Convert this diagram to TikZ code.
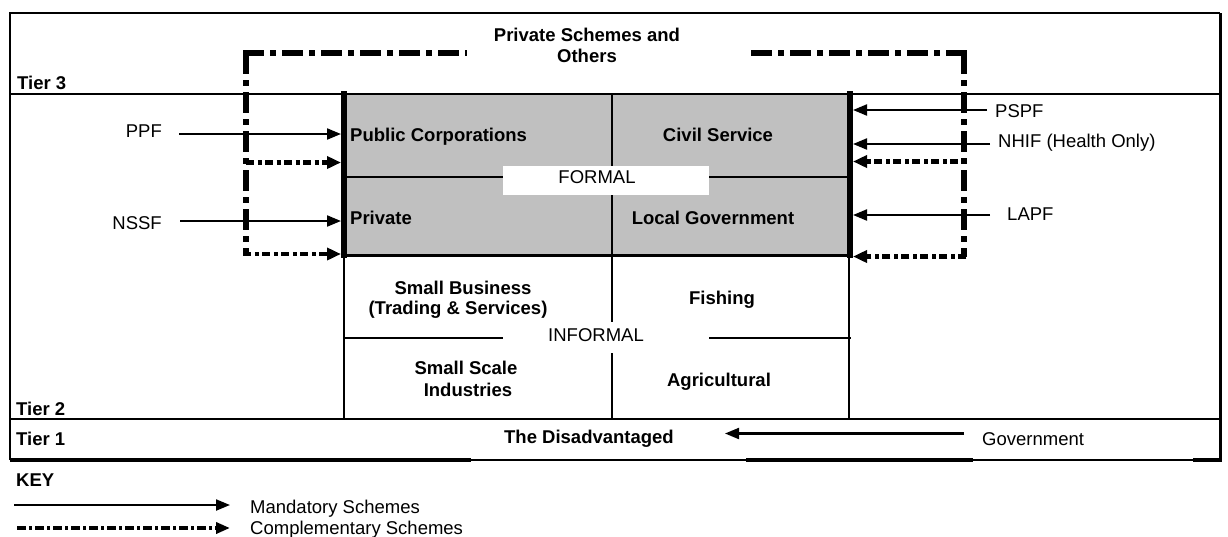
\documentclass[tikz,border=0pt]{standalone}
\usepackage{fontspec}
\setmainfont{Liberation Sans}
\usetikzlibrary{arrows.meta}
\definecolor{boxgray}{HTML}{C0C0C0}

\begin{document}
\begin{tikzpicture}[x=1pt,y=-1pt,
  txt/.style={inner sep=0pt, font=\fontsize{18.5}{21}\selectfont},
  btxt/.style={inner sep=0pt, font=\fontsize{18.5}{21}\selectfont\bfseries},
  rule/.style={line width=1.4pt},
  mand/.style={line width=2.1pt, -{Triangle[length=14pt,width=11pt]}},
  compmain/.style={line width=5.5pt, dash pattern=on 21pt off 6pt on 6pt off 6pt},
  compbranch/.style={line width=4.5pt, dash pattern=on 8pt off 3.5pt on 4pt off 3.5pt,
                     -{Triangle[length=14pt,width=12pt]}},
  compkey/.style={line width=3.5pt, dash pattern=on 9pt off 3pt on 3pt off 3pt,
                  -{Triangle[length=14pt,width=11pt]}},
]
\useasboundingbox (0,0) rectangle (1228,536);

% ---------- formal sector block ----------
\node[fill=boxgray, inner sep=0pt, minimum width=506pt, minimum height=161pt,
      anchor=north west] (formal) at (344,94) {};
\draw[rule] (344,177) -- (850,177);

% central divider (broken by the INFORMAL label)
\draw[line width=2.6pt] (612,94) -- (612,322);
\draw[line width=2.6pt] (612,353) -- (612,419);

% white tag carrying the FORMAL label
\node[fill=white, inner sep=0pt, minimum width=206pt, minimum height=29pt] (formaltag) at (606,180.5) {};
\node[txt, anchor=base] (formallbl) at (597,183) {FORMAL};

% informal sector block
\draw[rule] (344,255) -- (344,419);
\draw[rule] (849,255) -- (849,419);
\draw[rule] (344,338) -- (503,338);
\draw[rule] (709,338) -- (851,338);
\node[txt, anchor=base] (informal) at (596,341) {INFORMAL};

% borders of the formal block
\draw[line width=2.8pt] (formal.north west) -- (formal.north east);
\draw[line width=3pt] (formal.south west) -- (formal.south east);
\draw[line width=6pt, line cap=rect] (formal.north west) -- (formal.south west);
\draw[line width=6pt, line cap=rect] (formal.north east) -- (formal.south east);

% ---------- outer frame and tiers ----------
\draw[line width=1.5pt] (10,460) -- (10,13) -- (1220,13);
\draw[line width=3pt] (1220,13) -- (1220,460);
\draw[line width=1.5pt] (10,460) -- (1220,460);
\draw[line width=3.3pt] (10,460) -- (471,460);
\draw[line width=3.3pt] (746,460) -- (973,460);
\draw[line width=3.3pt] (1193,460) -- (1221.5,460);
\draw[rule] (10,94) -- (1220,94);
\draw[line width=1.5pt] (10,419) -- (1220,419);

\node[btxt, anchor=base west] (tier3) at (17,89) {Tier 3};
\node[btxt, anchor=base west] (tier2) at (16,415) {Tier 2};
\node[btxt, anchor=base west] (tier1) at (16,445) {Tier 1};

% ---------- sector labels ----------
\node[btxt, anchor=base west] (pubcorp) at (350,141) {Public Corporations};
\node[btxt, anchor=base] (civil) at (718,141) {Civil Service};
\node[btxt, anchor=base west] (private) at (350,224) {Private};
\node[btxt, anchor=base] (localgov) at (713,224) {Local Government};
\node[btxt, anchor=base] (smallbiz) at (463,294) {Small Business};
\node[btxt, anchor=base] (trading) at (458,314) {(Trading \& Services)};
\node[btxt, anchor=base] (fishing) at (722,304) {Fishing};
\node[btxt, anchor=base] (smallscale) at (466,374) {Small Scale};
\node[btxt, anchor=base] (industries) at (468,396) {Industries};
\node[btxt, anchor=base] (agri) at (719,386) {Agricultural};
\node[btxt, anchor=base] (disadv) at (589,443) {The Disadvantaged};
\node[btxt, anchor=base] (privsch) at (587,41) {Private Schemes and};
\node[btxt, anchor=base] (others) at (587,62.5) {Others};

% ---------- scheme labels ----------
\node[txt, anchor=base east] (ppf) at (162,137.5) {PPF};
\node[txt, anchor=base east] (nssf) at (162,229) {NSSF};
\node[txt, anchor=base west] (pspf) at (995,117) {PSPF};
\node[txt, anchor=base west] (nhif) at (998,147) {NHIF (Health Only)};
\node[txt, anchor=base west] (lapf) at (1007,220) {LAPF};
\node[txt, anchor=base west] (govt) at (982,445) {Government};

% ---------- arrow end points ----------
\coordinate (ppfS) at (179,134);   \coordinate (ppfT) at (341,134);
\coordinate (nssfS) at (180,221);  \coordinate (nssfT) at (341,221);
\coordinate (pspfS) at (987,110);  \coordinate (pspfT) at (853,110);
\coordinate (nhifS) at (990,144);  \coordinate (nhifT) at (853,144);
\coordinate (lapfS) at (990,215);  \coordinate (lapfT) at (853,215);
\coordinate (govS) at (964,433.5); \coordinate (govT) at (725,433.5);

\coordinate (lcorner) at (246,53);   \coordinate (ltopend) at (467,53);
\coordinate (lbottom) at (246,254);  \coordinate (lbranch) at (246,162.5);
\coordinate (lbranchT) at (341,162.5); \coordinate (lbottomT) at (341,254);
\coordinate (rcorner) at (964,53);   \coordinate (rtopend) at (748,53);
\coordinate (rbottom) at (964,256.5); \coordinate (rbranch) at (958,161.5);
\coordinate (rbranchT) at (853,161.5); \coordinate (rbottomT) at (853,256.5);

% ---------- complementary (private) schemes ----------
\draw[compmain] ([xshift=-2.75pt]lcorner) -- (ltopend);
\draw[compmain] (lcorner) -- (lbottom);
\draw[compbranch] (lbranch) -- (lbranchT);
\draw[compbranch] ([xshift=-2.75pt]lbottom) -- (lbottomT);
\draw[compmain] ([xshift=2.75pt]rcorner) -- (rtopend);
\draw[compmain] (rcorner) -- (rbottom);
\draw[compbranch] (rbranch) -- (rbranchT);
\draw[compbranch] ([xshift=2.25pt]rbottom) -- (rbottomT);

% ---------- mandatory schemes ----------
\draw[mand] (ppfS) -- (ppfT);
\draw[mand] (nssfS) -- (nssfT);
\draw[mand] (pspfS) -- (pspfT);
\draw[mand] (nhifS) -- (nhifT);
\draw[mand] (lapfS) -- (lapfT);
\draw[mand] (govS) -- (govT);

% ---------- key ----------
\node[btxt, anchor=base west] (key) at (16,486) {KEY};
\node[txt, anchor=base west] (keymand) at (250,513) {Mandatory Schemes};
\node[txt, anchor=base west] (keycomp) at (250,534) {Complementary Schemes};
\coordinate (kmS) at (14,505);  \coordinate (kmT) at (230,505);
\coordinate (kcS) at (17,528);  \coordinate (kcT) at (230,528);
\draw[mand] (kmS) -- (kmT);
\draw[compkey] (kcS) -- (kcT);
\end{tikzpicture}
\end{document}
